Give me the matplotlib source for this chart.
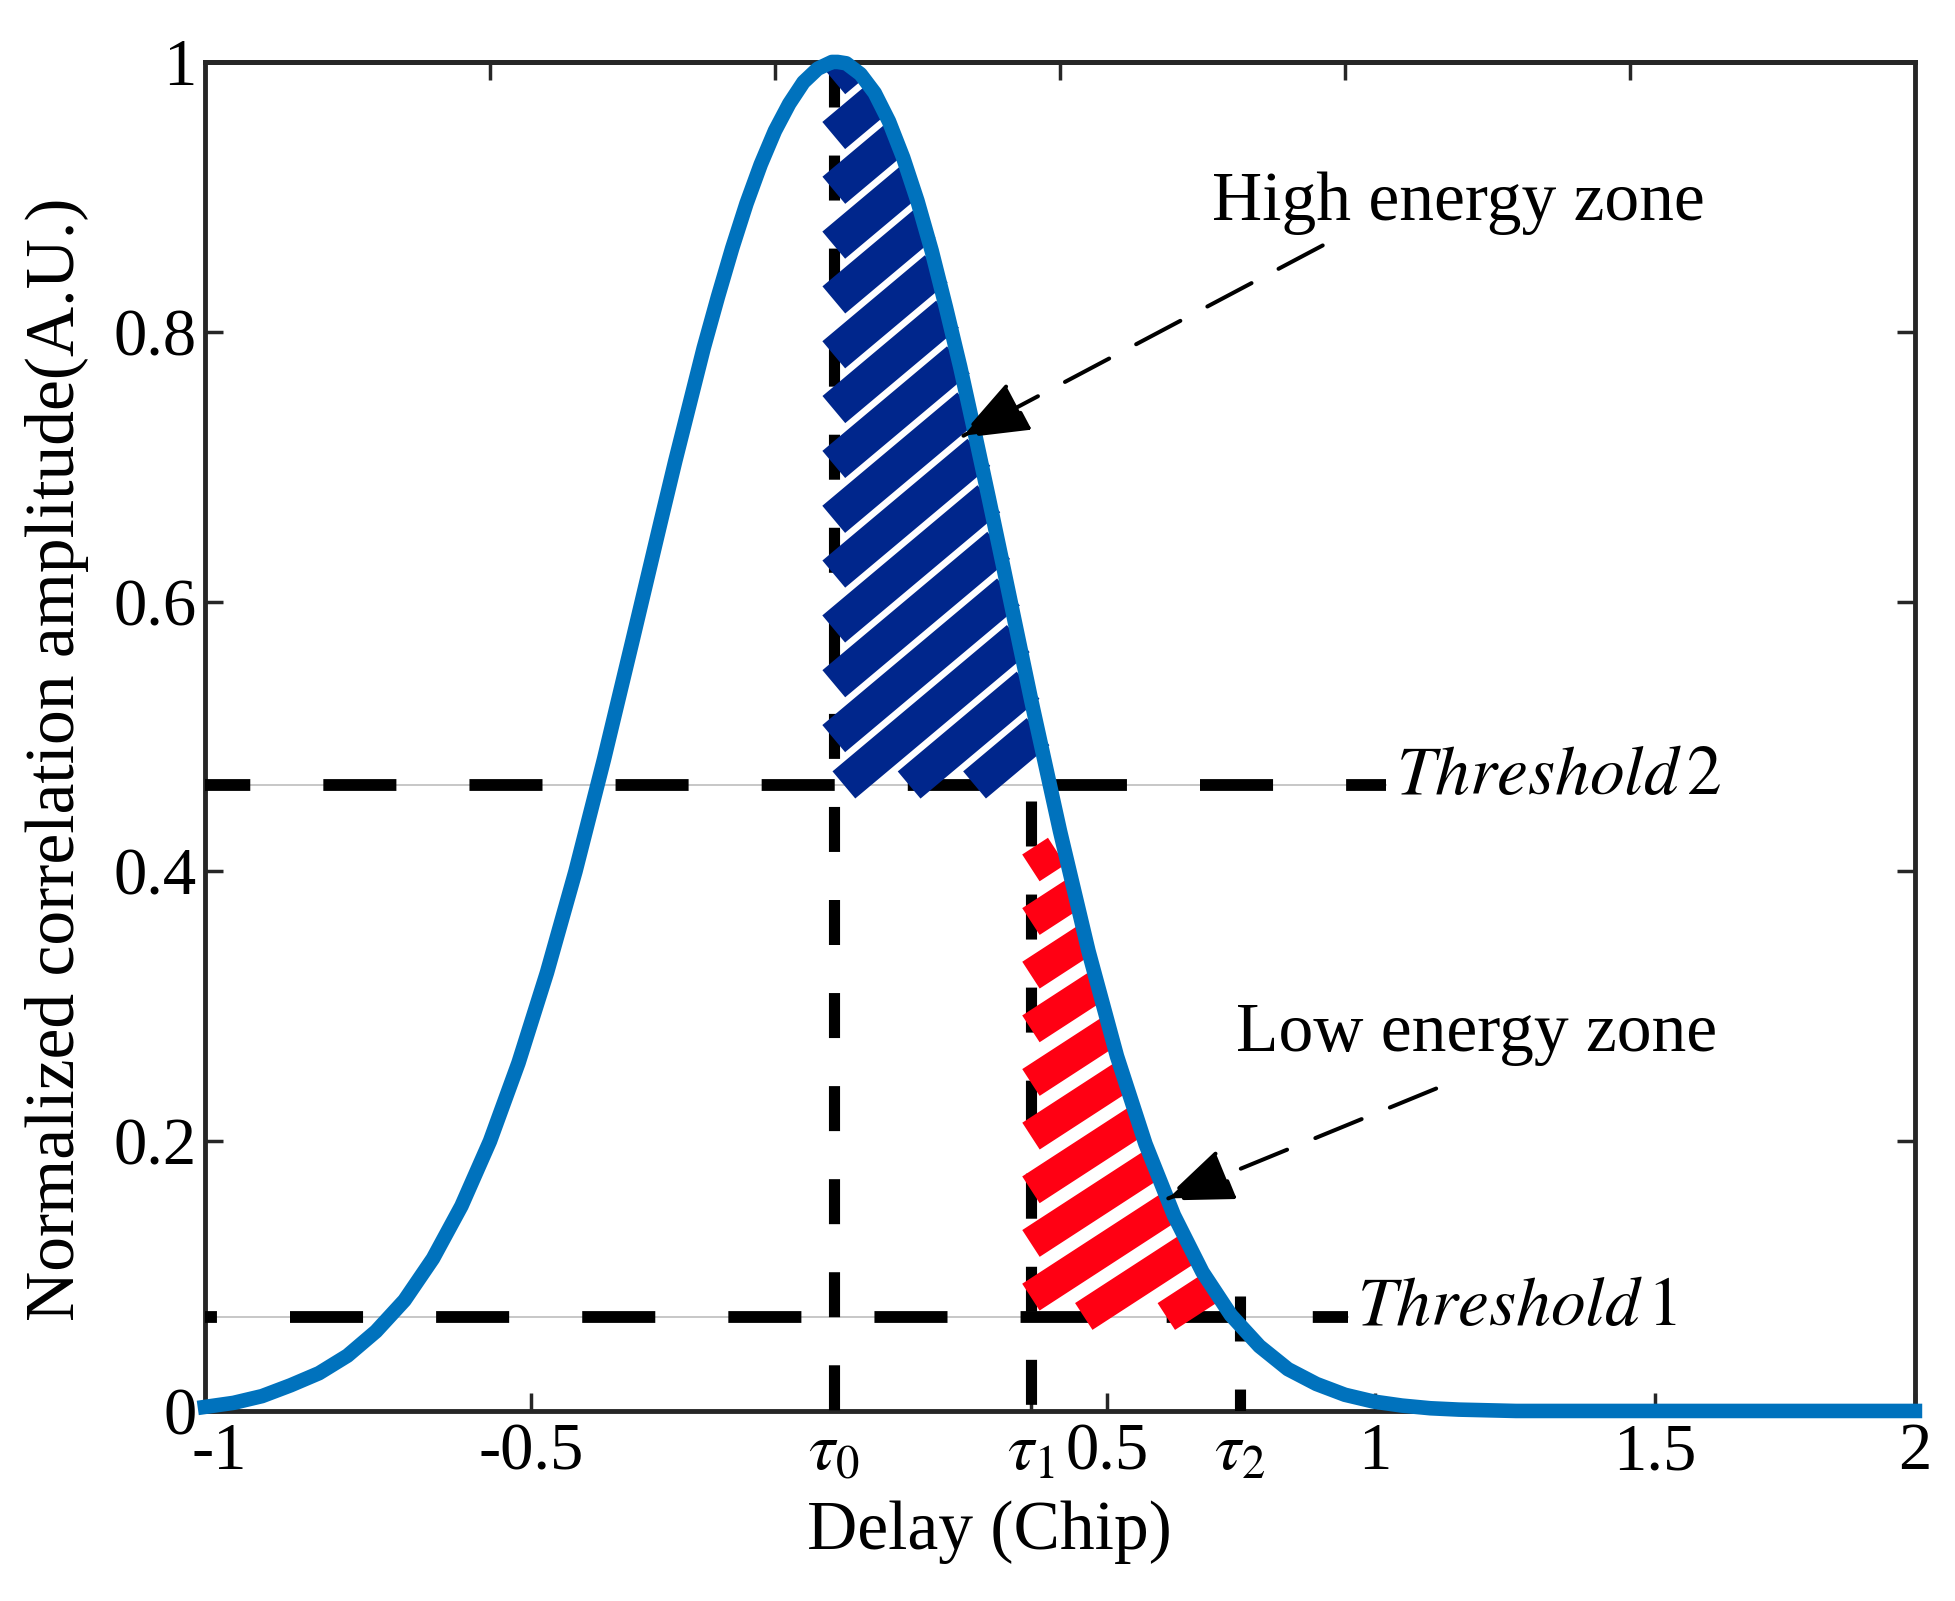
import numpy as np
import matplotlib
matplotlib.use('Agg')
import matplotlib.pyplot as plt
from matplotlib.path import Path
from matplotlib.collections import LineCollection

plt.rcParams['font.family'] = ['Liberation Serif', 'DejaVu Serif']
plt.rcParams['mathtext.fontset'] = 'stix'
plt.rcParams['lines.scale_dashes'] = False

# correlation curve
delay = [-1.0, -0.95, -0.9, -0.85, -0.8, -0.75, -0.7, -0.65, -0.6, -0.55,
         -0.5, -0.45, -0.4, -0.35, -0.3, -0.25, -0.2, -0.175, -0.15, -0.125,
         -0.1, -0.075, -0.05, -0.025, 0.0, 0.025, 0.05, 0.075, 0.1, 0.11,
         0.125, 0.15, 0.175, 0.2, 0.225, 0.25, 0.275, 0.3, 0.325, 0.35,
         0.375, 0.4, 0.45, 0.5, 0.55, 0.6, 0.65, 0.7, 0.75, 0.8,
         0.85, 0.9, 0.95, 1.0, 1.05, 1.1, 1.15, 1.2, 1.3, 1.5, 2.0]
amplitude = [0.003, 0.006, 0.011, 0.019, 0.028, 0.041, 0.059, 0.082, 0.113, 0.152,
             0.200, 0.258, 0.325, 0.400, 0.483, 0.571, 0.660, 0.704, 0.746, 0.788,
             0.826, 0.862, 0.895, 0.924, 0.949, 0.969, 0.985, 0.995, 1.000, 1.000,
             0.999, 0.991, 0.977, 0.956, 0.929, 0.897, 0.860, 0.818, 0.774, 0.726,
             0.677, 0.627, 0.526, 0.430, 0.341, 0.263, 0.198, 0.145, 0.103, 0.071,
             0.048, 0.031, 0.020, 0.012, 0.007, 0.004, 0.002, 0.001, 0.0, 0.0, 0.0]

threshold1 = 0.07
threshold2 = 0.464
tau0, tau1, tau2 = 0.103, 0.449, 0.816
low_zone_top = 0.415

xtick_pos = [-0.975, -0.428, 0.103, 0.449, 0.582, 0.816, 1.053, 1.544, 2.0]
xtick_labels = ['-1', '-0.5', r'$\tau_0$', r'$\tau_1$', '0.5', r'$\tau_2$', '1', '1.5', '2']
top_ticks = [-0.5, 0, 0.5, 1, 1.5]
ytick_pos = [0, 0.2, 0.4, 0.6, 0.8, 1]
ytick_labels = ['0', '0.2', '0.4', '0.6', '0.8', '1']

curve_col = '#0072BD'
blue_col = '#00268C'
red_col = '#FF0013'
spine_col = '#262626'

fig = plt.figure(figsize=(19.56, 16.01), dpi=100)
ax = fig.add_axes([0.1048, 0.1187, 0.8742, 0.8426])
ax.set_xlim(-1, 2)
ax.set_ylim(0, 1)

x = np.array(delay)
y = np.array(amplitude)


def hatch_bars(xs, lower, upper, angle, pitch, width, color, anchor, min_len=14):
    # thick parallel bars filling a region, cut square at the boundary
    poly = np.vstack([np.column_stack([xs, upper]),
                      np.column_stack([xs[::-1], lower[::-1]])])
    pix = ax.transData.transform(poly)
    region = Path(pix)
    a = np.deg2rad(angle)
    d = np.array([np.cos(a), np.sin(a)])
    n = np.array([-np.sin(a), np.cos(a)])
    c = pix @ n
    t = pix @ d
    tt = np.linspace(t.min(), t.max(), 2000)
    c0 = ax.transData.transform(anchor) @ n
    k0 = np.floor((c.min() - c0) / pitch)
    segs = []
    for ck in c0 + pitch * np.arange(k0, k0 + 200):
        if ck > c.max():
            break
        pts = ck * n + tt[:, None] * d
        inside = region.contains_points(pts)
        if inside.sum() > 3:
            idx = np.flatnonzero(inside)
            seg = pts[[idx[0], idx[-1]]]
            if np.hypot(*(seg[1] - seg[0])) < min_len:
                continue
            segs.append(ax.transData.inverted().transform(seg))
    ax.add_collection(LineCollection(segs, colors=color, linewidths=width,
                                     capstyle='butt', zorder=4))


# high energy zone: right of tau0, above threshold 2
xs = np.linspace(tau0, 0.6, 400)
top = np.interp(xs, x, y)
keep = top >= threshold2
hatch_bars(xs[keep], np.full(keep.sum(), threshold2), top[keep],
           40, 42, 25.5, blue_col, (0.351, 0.505))

# low energy zone: right of tau1, above threshold 1
xs = np.linspace(tau1, 0.95, 400)
top = np.minimum(np.interp(xs, x, y), low_zone_top)
keep = top >= threshold1
hatch_bars(xs[keep], np.full(keep.sum(), threshold1), top[keep],
           33, 45, 23, red_col, (0.640, 0.097))

# threshold lines
ax.plot([-1, 1.072], [threshold2, threshold2], color='#BEBEBE', lw=1.2, zorder=2)
ax.plot([-1, 1.005], [threshold1, threshold1], color='#BEBEBE', lw=1.2, zorder=2)
ax.plot([-1, 1.072], [threshold2, threshold2], color='k', lw=8.5,
        ls=(20, (52.6, 52.6)), zorder=3)
ax.plot([-1, 1.005], [threshold1, threshold1], color='k', lw=8.5,
        ls=(44, (52.6, 52.6)), zorder=3)

# delay markers
ax.plot([tau0, tau0], [1, 0], color='k', lw=8, ls=(0, (32.4, 34.6)), zorder=3)
ax.plot([tau1, tau1], [0.452, 0], color='k', lw=8, ls=(0, (32.4, 34.6)), zorder=3)
ax.plot([tau2, tau2], [0.085, 0], color='k', lw=8, ls=(0, (32.4, 34.6)), zorder=3)

# correlation curve
ax.plot(x, y, color=curve_col, lw=10.5, solid_joinstyle='round', clip_on=False, zorder=6)

# annotations
arrow = dict(arrowstyle='-|>,head_length=44,head_width=17', mutation_scale=1,
             lw=2.9, ls=(0, (36, 22)), color='k', shrinkA=0, shrinkB=0)
ax.annotate('', xy=(0.322, 0.721), xytext=(0.961, 0.864), arrowprops=arrow, zorder=7)
ax.annotate('', xy=(0.681, 0.156), xytext=(1.160, 0.239), arrowprops=arrow, zorder=7)
ax.text(0.767, 0.895, 'High energy zone', fontsize=50, ha='left', va='center')
ax.text(0.808, 0.279, 'Low energy zone', fontsize=50, ha='left', va='center')
ax.text(1.089, threshold2 + 0.006, r'$\mathit{Threshold}\,\mathrm{2}$',
        fontsize=50, ha='left', va='center')
ax.text(1.021, threshold1 + 0.006, r'$\mathit{Threshold}\,\mathrm{1}$',
        fontsize=50, ha='left', va='center')

# axes styling
ax.set_xticks(xtick_pos, xtick_labels)
ax.set_yticks(ytick_pos, ytick_labels)
ax.tick_params(axis='both', direction='in', length=13, width=2.5, color=spine_col,
               labelsize=48, right=True)
ax.tick_params(axis='x', pad=8)
ax.tick_params(axis='y', pad=6)
ax.xaxis.get_major_ticks()[0].tick1line.set_visible(False)
for s in ax.spines.values():
    s.set_linewidth(3.5)
    s.set_color(spine_col)

sec = ax.secondary_xaxis('top')
sec.set_xticks(top_ticks)
sec.set_xticklabels([])
sec.tick_params(direction='in', length=13, width=2.5, color=spine_col)
sec.spines['top'].set_linewidth(3.5)
sec.spines['top'].set_color(spine_col)

ax.set_xlabel('Delay (Chip)', fontsize=50)
ax.set_ylabel('Normalized correlation amplitude(A.U.)', fontsize=50)
ax.xaxis.set_label_coords(0.459, -0.066)
ax.yaxis.set_label_coords(-0.068, 0.483)

fig.savefig('out.png', dpi=100)
